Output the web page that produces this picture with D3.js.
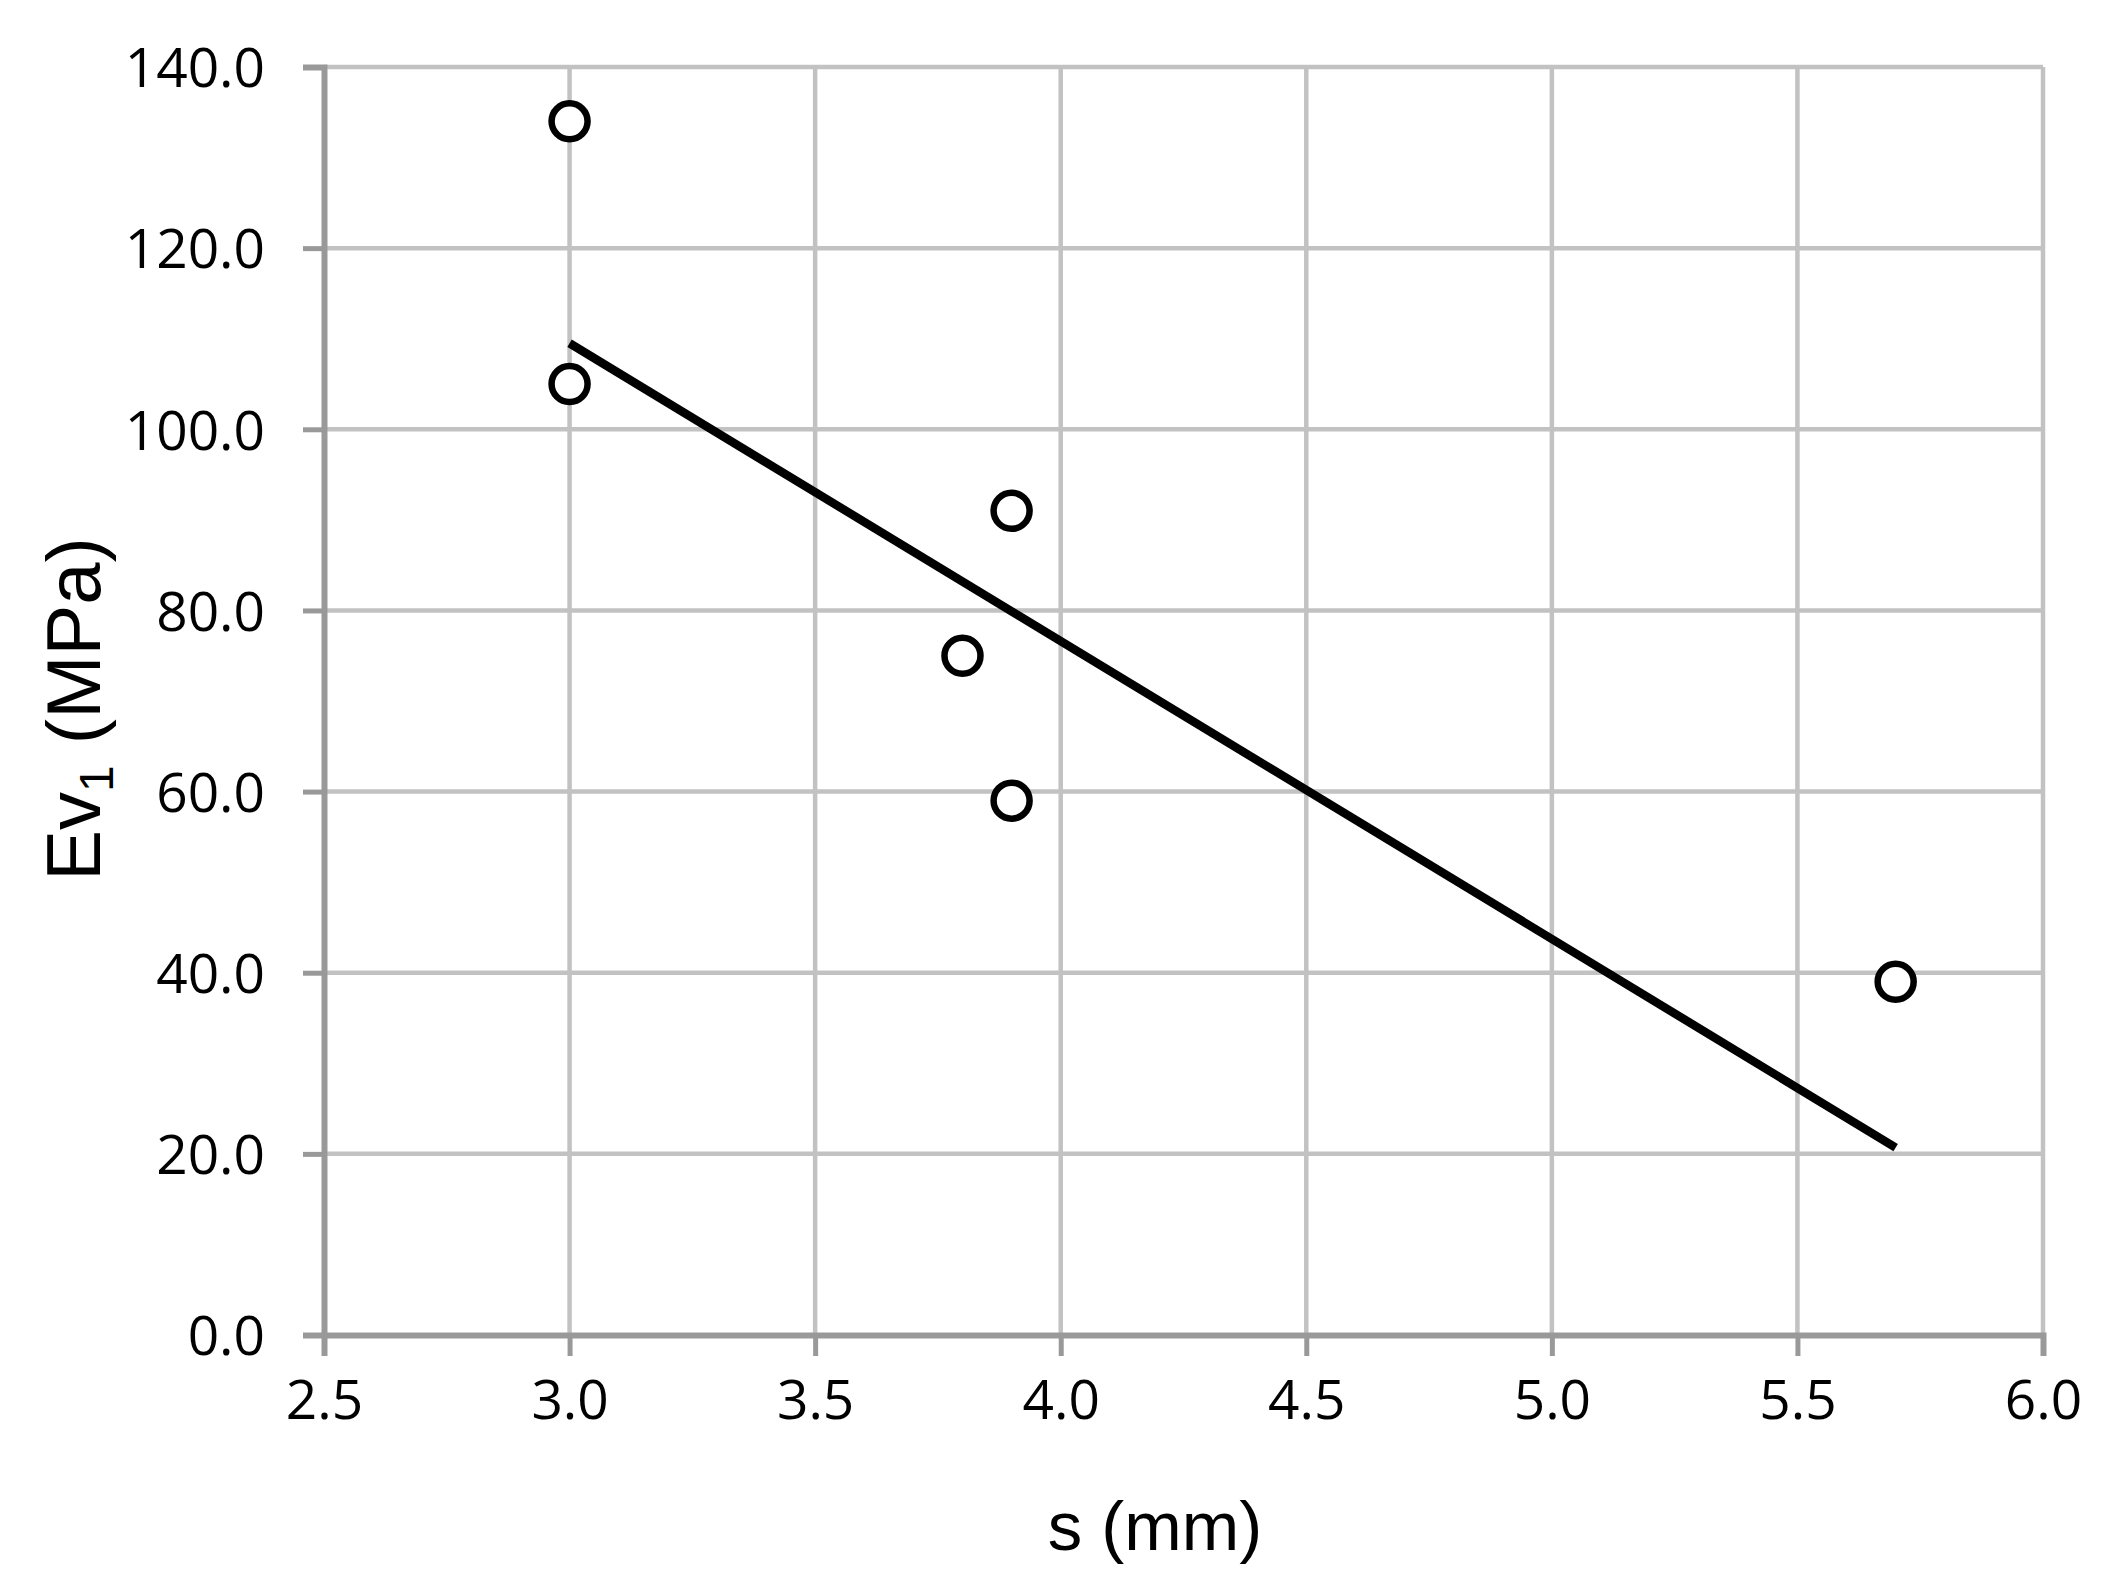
<!DOCTYPE html>
<html>
<head>
<meta charset="utf-8">
<script src="https://cdn.jsdelivr.net/npm/d3@7"></script>
<style>
  body { margin: 0; background: #fff; }
</style>
</head>
<body>
<div id="chart"></div>
<script>
// measured values
var sVals  = [3.0, 3.0, 3.9, 3.8, 3.9, 5.7];
var evVals = [134.0, 105.0, 91.0, 75.0, 59.0, 39.0];

// trend line end points as drawn
var trendS  = [3.0, 5.7];
var trendEv = [109.5, 20.7];

var xTicks = [2.5, 3.0, 3.5, 4.0, 4.5, 5.0, 5.5, 6.0];
var yTicks = [0, 20, 40, 60, 80, 100, 120, 140];

var width = 2112, height = 1595;
var margin = {top: 67, right: 69, bottom: 260, left: 324};

var svg = d3.select("#chart").append("svg")
    .attr("width", width)
    .attr("height", height);

var x = d3.scaleLinear().domain([2.5, 6.0]).range([margin.left, width - margin.right]);
var y = d3.scaleLinear().domain([0, 140]).range([height - margin.bottom, margin.top]);

// grid
svg.append("g").selectAll("line.h")
    .data(yTicks.slice(1))
    .join("line")
    .attr("x1", x(2.5)).attr("x2", x(6.0))
    .attr("y1", d => y(d)).attr("y2", d => y(d))
    .attr("stroke", "#c2c2c2")
    .attr("stroke-width", 4.5);

svg.append("g").selectAll("line.v")
    .data(xTicks.slice(1))
    .join("line")
    .attr("x1", d => x(d)).attr("x2", d => x(d))
    .attr("y1", y(0)).attr("y2", y(140))
    .attr("stroke", "#c2c2c2")
    .attr("stroke-width", 4.5);

// axes
var xAxis = svg.append("g")
    .attr("transform", "translate(0," + y(0) + ")")
    .call(d3.axisBottom(x).tickValues(xTicks).tickFormat(d3.format(".1f")).tickSize(21).tickPadding(24));

var yAxis = svg.append("g")
    .attr("transform", "translate(" + x(2.5) + ",0)")
    .call(d3.axisLeft(y).tickValues(yTicks).tickFormat(d3.format(".1f")).tickSize(21).tickPadding(38));

[xAxis, yAxis].forEach(function(ax) {
    ax.select(".domain").attr("stroke", "#999").attr("stroke-width", 6);
    ax.selectAll(".tick line").attr("stroke", "#999").attr("stroke-width", 5);
    ax.selectAll(".tick text")
        .attr("fill", "#000")
        .attr("font-family", "'Open Sans', sans-serif")
        .attr("font-size", 55);
});
yAxis.selectAll(".tick text").attr("dy", "0.36em");

// trend line
var trend = trendS.map((s, i) => ({s: s, ev: trendEv[i]}));
svg.append("path")
    .datum(trend)
    .attr("fill", "none")
    .attr("stroke", "#000")
    .attr("stroke-width", 8.5)
    .attr("d", d3.line().x(d => x(d.s)).y(d => y(d.ev)));

// points
var pts = sVals.map((s, i) => ({s: s, ev: evVals[i]}));
svg.append("g").selectAll("circle")
    .data(pts)
    .join("circle")
    .attr("cx", d => x(d.s))
    .attr("cy", d => y(d.ev))
    .attr("r", 18)
    .attr("fill", "#fff")
    .attr("stroke", "#000")
    .attr("stroke-width", 6.5);

// axis titles
svg.append("text")
    .attr("x", 1155)
    .attr("y", 1550)
    .attr("text-anchor", "middle")
    .attr("font-family", "'Liberation Sans', Arial, sans-serif")
    .attr("font-size", 69)
    .text("s (mm)");

var yt = svg.append("text")
    .attr("transform", "translate(100,709) rotate(-90)")
    .attr("text-anchor", "middle")
    .attr("font-family", "'Liberation Sans', Arial, sans-serif")
    .attr("font-size", 76);
yt.append("tspan").text("Ev");
yt.append("tspan").attr("font-size", 48).attr("dy", 13).text("1");
yt.append("tspan").attr("dy", -13).text(" (MPa)");
</script>
</body>
</html>
